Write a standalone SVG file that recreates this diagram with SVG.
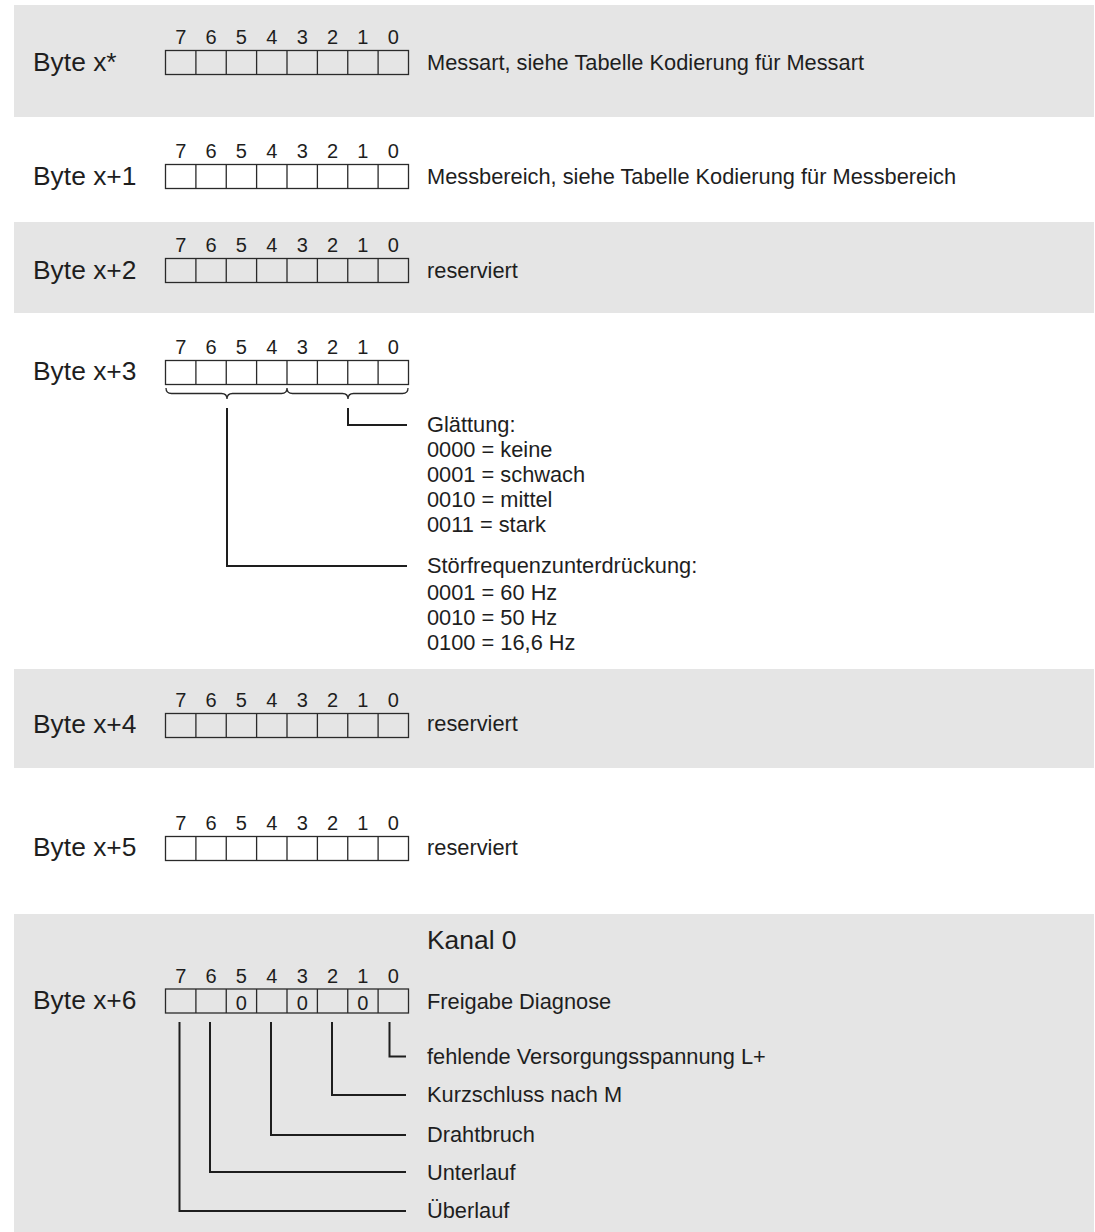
<svg xmlns="http://www.w3.org/2000/svg" width="1095" height="1232" viewBox="0 0 1095 1232">
<defs>
<style>
.band{fill:#e5e5e5}
.box{fill:none;stroke:#2a2a2a;stroke-width:1.3}
.lbl{font-family:"Liberation Sans",Arial,sans-serif;font-size:26.4px;fill:#1e1e1e}
.bit{font-family:"Liberation Sans",Arial,sans-serif;font-size:20px;fill:#1e1e1e;text-anchor:middle}
.desc{font-family:"Liberation Sans",Arial,sans-serif;font-size:21.8px;fill:#1e1e1e}
.zero{font-family:"Liberation Sans",Arial,sans-serif;font-size:20px;fill:#1e1e1e;text-anchor:middle}
.con{fill:none;stroke:#1e1e1e;stroke-width:2}
</style>
<g id="bytebox">
<rect class="box" x="0" y="0" width="243" height="24"/>
<path class="box" d="M30.4 0V24M60.75 0V24M91.1 0V24M121.5 0V24M151.9 0V24M182.25 0V24M212.6 0V24"/>
<g class="bit">
<text x="15.2" y="-6.5">7</text><text x="45.6" y="-6.5">6</text><text x="75.9" y="-6.5">5</text><text x="106.3" y="-6.5">4</text><text x="136.7" y="-6.5">3</text><text x="167.1" y="-6.5">2</text><text x="197.4" y="-6.5">1</text><text x="227.8" y="-6.5">0</text>
</g>
</g>
</defs>
<rect width="1095" height="1232" fill="#ffffff"/>
<g id="bands">
<rect class="band" x="14" y="5" width="1080" height="112"/>
<rect class="band" x="14" y="222" width="1080" height="91"/>
<rect class="band" x="14" y="669" width="1080" height="99"/>
<rect class="band" x="14" y="914" width="1080" height="318"/>
</g>
<g id="byte0">
<text class="lbl" x="33" y="71">Byte x*</text>
<use href="#bytebox" x="165.5" y="50.5"/>
<text class="desc" x="427" y="69.5">Messart, siehe Tabelle Kodierung für Messart</text>
</g>
<g id="byte1">
<text class="lbl" x="33" y="185">Byte x+1</text>
<use href="#bytebox" x="165.5" y="164.5"/>
<text class="desc" x="427" y="183.5">Messbereich, siehe Tabelle Kodierung für Messbereich</text>
</g>
<g id="byte2">
<text class="lbl" x="33" y="279">Byte x+2</text>
<use href="#bytebox" x="165.5" y="258.5"/>
<text class="desc" x="427" y="278">reserviert</text>
</g>
<g id="byte3">
<text class="lbl" x="33" y="380">Byte x+3</text>
<use href="#bytebox" x="165.5" y="360.5"/>
<path class="box" d="M166 388Q166 393.5 171.5 393.5H221.5Q227 393.5 227 399Q227 393.5 232.5 393.5H281.5Q287 393.5 287 388Q287 393.5 292.5 393.5H342.5Q348 393.5 348 399Q348 393.5 353.5 393.5H402.5Q408 393.5 408 388"/>
</g>
<g id="glaettung">
<text class="desc" x="427" y="432">Glättung:</text>
<text class="desc" x="427" y="457">0000 = keine</text>
<text class="desc" x="427" y="482">0001 = schwach</text>
<text class="desc" x="427" y="507">0010 = mittel</text>
<text class="desc" x="427" y="532">0011 = stark</text>
</g>
<g id="stoerfrequenz">
<text class="desc" x="427" y="573">Störfrequenzunterdrückung:</text>
<text class="desc" x="427" y="600">0001 = 60 Hz</text>
<text class="desc" x="427" y="625">0010 = 50 Hz</text>
<text class="desc" x="427" y="650">0100 = 16,6 Hz</text>
</g>
<g id="byte4">
<text class="lbl" x="33" y="733">Byte x+4</text>
<use href="#bytebox" x="165.5" y="713.5"/>
<text class="desc" x="427" y="731">reserviert</text>
</g>
<g id="byte5">
<text class="lbl" x="33" y="856">Byte x+5</text>
<use href="#bytebox" x="165.5" y="836.5"/>
<text class="desc" x="427" y="855">reserviert</text>
</g>
<g id="byte6">
<text class="lbl" x="427" y="949">Kanal 0</text>
<text class="lbl" x="33" y="1009">Byte x+6</text>
<use href="#bytebox" x="165.5" y="989"/>
<text class="zero" x="241.4" y="1010">0</text>
<text class="zero" x="302.2" y="1010">0</text>
<text class="zero" x="362.9" y="1010">0</text>
<text class="desc" x="427" y="1008.5">Freigabe Diagnose</text>
<text class="desc" x="427" y="1064">fehlende Versorgungsspannung L+</text>
<text class="desc" x="427" y="1102">Kurzschluss nach M</text>
<text class="desc" x="427" y="1142">Drahtbruch</text>
<text class="desc" x="427" y="1180">Unterlauf</text>
<text class="desc" x="427" y="1218">Überlauf</text>
</g>
<g id="connectors">
<path class="con" d="M348 408V425H407"/>
<path class="con" d="M227 408V566H407"/>
<path class="con" d="M389.5 1022V1056.5H406"/>
<path class="con" d="M332 1022V1095H406"/>
<path class="con" d="M271 1022V1135H406"/>
<path class="con" d="M210 1022V1172H406"/>
<path class="con" d="M179.5 1022V1211H406"/>
</g>
</svg>
